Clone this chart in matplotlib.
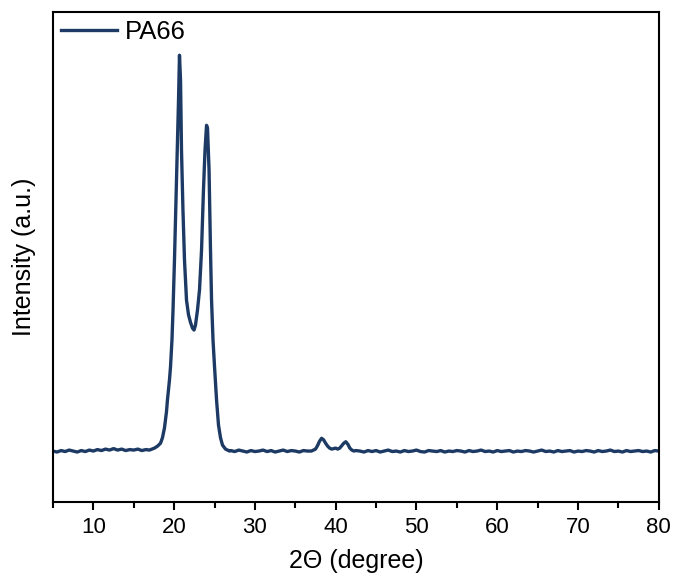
import numpy as np
import matplotlib
matplotlib.use("Agg")
import matplotlib.pyplot as plt
from matplotlib.ticker import MultipleLocator

plt.rcParams['font.family'] = ['Liberation Sans', 'DejaVu Sans']

# Background, left (2theta 5.0 .. 16.5, step 0.5)
x_bg_left = np.arange(5.0, 16.51, 0.5)
y_bg_left = [104, 102, 105, 103, 106, 104, 102, 105, 103, 106, 104, 107,
             105, 108, 106, 109, 106, 108, 105, 107, 106, 108, 105, 107]

# Main double peak
x_main = [16.94, 17.56, 17.94, 18.31, 18.55, 18.80, 19.05, 19.17, 19.42, 19.55,
          19.73, 19.86, 20.04, 20.23, 20.41, 20.54, 20.66, 20.79, 20.91, 21.09,
          21.28, 21.53, 21.78, 22.02, 22.27, 22.46, 22.64, 22.89, 23.14, 23.39,
          23.63, 23.82, 24.01, 24.13, 24.32, 24.50, 24.63, 24.81, 25.00, 25.25,
          25.49, 25.74, 25.99, 26.36, 26.86]
y_main = [106, 110, 114, 120, 131, 151, 184, 208, 249, 276,
          331, 392, 494, 616, 739, 820, 912, 861, 718, 596,
          494, 412, 382, 367, 355, 351, 361, 392, 433, 514,
          637, 718, 769, 763, 678, 514, 412, 331, 276, 208,
          157, 131, 116, 108, 104]

# Background, middle (27.0 .. 36.5, step 0.5)
x_bg_mid = np.arange(27.0, 36.51, 0.5)
y_bg_mid = [105, 103, 106, 104, 102, 105, 103, 104, 106, 103,
            105, 102, 104, 106, 103, 105, 104, 102, 105, 104]

# Small peaks near 38 and 41 degrees (37.0 .. 42.5, step 0.25)
x_small = np.arange(37.0, 42.51, 0.25)
y_small = [104, 106, 108, 115, 124, 130, 127, 120, 114, 110, 108, 109,
           110, 108, 110, 115, 120, 123, 118, 110, 106, 104, 105]

# Background, right (43.0 .. 80.0, step 0.5)
x_bg_right = np.arange(43.0, 80.01, 0.5)
y_bg_right = [104, 102, 105, 103, 105, 102, 104, 106, 103, 104, 102, 105, 103, 104, 106, 103, 102, 105, 104, 103,
              105, 102, 104, 103, 105, 104, 102, 105, 103, 104, 106, 103, 104, 102, 105, 103, 104, 105, 102, 104,
              103, 105, 104, 102, 104, 106, 103, 104, 102, 105, 103, 104, 105, 102, 104, 103, 105, 104, 102, 105,
              103, 104, 106, 103, 104, 102, 105, 103, 104, 105, 103, 104, 102, 105, 104]

x_all = np.concatenate([x_bg_left, x_main, x_bg_mid, x_small, x_bg_right])
y_all = np.concatenate([y_bg_left, y_main, y_bg_mid, y_small, y_bg_right])

fig = plt.figure(figsize=(6.75, 5.79), dpi=100)
ax = fig.add_axes([0.0785, 0.133, 0.8975, 0.846])

ax.plot(x_all, y_all, color='#1c3a64', lw=2.4, label='PA66')

ax.set_xlim(5, 80)
ax.set_ylim(0, 1000)
ax.xaxis.set_major_locator(MultipleLocator(10))
ax.xaxis.set_minor_locator(MultipleLocator(5))
ax.set_yticks([])
ax.tick_params(axis='x', which='major', direction='out', length=6, width=1.5, labelsize=16, pad=5)
ax.tick_params(axis='x', which='minor', direction='out', length=4, width=1.5)
for s in ax.spines.values():
    s.set_linewidth(1.5)

ax.set_xlabel('2Θ (degree)', fontsize=18, labelpad=8)
ax.set_ylabel('Intensity (a.u.)', fontsize=18, labelpad=12)

leg = ax.legend(loc='upper left', frameon=False, fontsize=18.5, handlelength=2.2,
                handletextpad=0.3, borderaxespad=0.1, borderpad=0.2)

fig.savefig('out.png', dpi=100)
